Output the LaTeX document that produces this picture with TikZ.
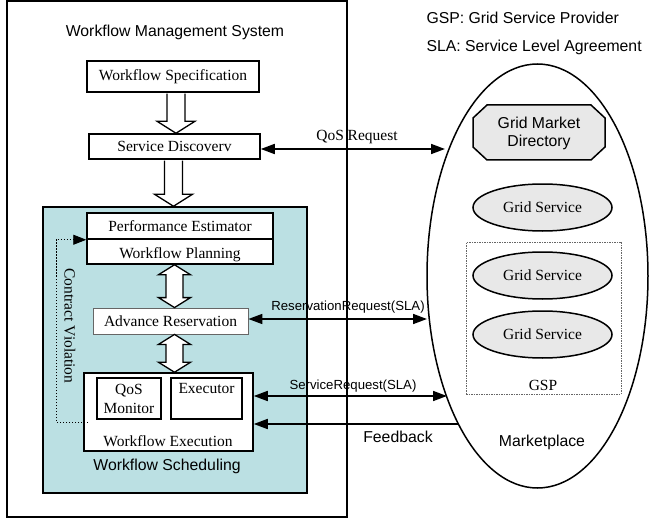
\documentclass[tikz,border=0pt]{standalone}
\usepackage{fontspec}
\setmainfont{Liberation Serif}
\setsansfont{Liberation Sans}
\usetikzlibrary{arrows.meta,calc,shapes.geometric}
\definecolor{teal1}{RGB}{187,224,227}
\definecolor{gsfill}{RGB}{232,232,232}
\newcommand{\SerifBig}{\rmfamily\fontsize{15.5}{18}\selectfont}
\newcommand{\SerifTight}{\rmfamily\fontsize{15.5}{19}\selectfont}
\newcommand{\SansBig}{\sffamily\fontsize{15.8}{18}\selectfont}
\newcommand{\SansSmall}{\sffamily\fontsize{13.2}{15}\selectfont}
\newcommand{\HollowDown}[2]{%
  \draw[hollow] ($(#1)+(-9,0.8)$) -- ($(#2)+(-9,-12)$) -- ($(#2)+(-19,-12)$) -- (#2)
    -- ($(#2)+(19,-12)$) -- ($(#2)+(9,-12)$) -- ($(#1)+(9,0.8)$);}
\newcommand{\HollowDouble}[2]{%
  \draw[hollow] (#1) -- ($(#1)+(16,10)$) -- ($(#1)+(8.5,10)$) -- ($(#2)+(8.5,-10)$)
    -- ($(#2)+(16,-10)$) -- (#2) -- ($(#2)+(-16,-10)$) -- ($(#2)+(-8.5,-10)$)
    -- ($(#1)+(-8.5,10)$) -- ($(#1)+(-16,10)$) -- cycle;}
\begin{document}
\begin{tikzpicture}[x=1pt,y=-1pt,
  box/.style={draw,line width=1.5pt,fill=white,inner sep=0pt,font=\SerifBig},
  hollow/.style={draw,line width=1.3pt,fill=white,line join=miter},
  conn/.style={line width=1.6pt,-{Triangle[length=14pt,width=10pt]}},
  dconn/.style={line width=1.6pt,{Triangle[length=14pt,width=10pt]}-{Triangle[length=14pt,width=10pt]}},
  cv/.style={line width=0.8pt,dash pattern=on 1.5pt off 1.5pt,-{Triangle[length=13pt,width=10pt]}},
  gsell/.style={ellipse,draw,line width=1.5pt,fill=gsfill,minimum width=139pt,minimum height=47pt,inner sep=0pt,font=\SerifBig}]
\useasboundingbox (0,0) rectangle (649,519);

% Workflow management system
\node[draw,line width=1.5pt,minimum width=340pt,minimum height=516pt,inner sep=0pt] (wms) at (177,259) {};
\node[font=\SansBig] (wmst) at (175,32) {Workflow Management System};
\node[box,minimum width=172pt,minimum height=31pt] (spec) at (173,76.5) {Workflow Specification};
\node[box,minimum width=171pt,minimum height=25pt] (sd) at (174.5,146.5) {Service Discoverv};

% Workflow scheduling
\node[draw,line width=1.5pt,fill=teal1,minimum width=264pt,minimum height=286pt,inner sep=0pt] (sched) at (175,350) {};
\node[font=\SansBig] (schedt) at (167,466) {Workflow Scheduling};
\node[box,minimum width=186pt,minimum height=26pt] (pe) at (180,226) {Performance Estimator};
\node[box,minimum width=186pt,minimum height=25pt] (wp) at (180,251.5) {};
\node[font=\SerifBig] (wpt) at (180,255) {Workflow Planning};
\node[draw=black!60,line width=0.8pt,fill=white,minimum width=155pt,minimum height=26pt,inner sep=0pt,font=\SerifBig] (ar) at (170.5,321) {Advance Reservation};
\node[box,minimum width=169pt,minimum height=78pt] (wfe) at (168.5,412) {};
\node[font=\SerifBig] (wfet) at (168,441) {Workflow Execution};
\node[box,line width=1.8pt,minimum width=64pt,minimum height=41pt,align=center,font=\SerifTight] (qos) at (129,398.5) {QoS\\Monitor};
\node[box,line width=1.8pt,minimum width=71pt,minimum height=41pt] (ex) at (206.5,398.5) {};
\node[font=\SerifBig] (ext) at (206.5,388) {Executor};

% hollow arrows
\coordinate (c1x) at (176,0);
\coordinate (c2x) at (173.5,0);
\coordinate (colx) at (174.5,0);
\coordinate (h1a) at (c1x |- spec.south);
\coordinate (h1b) at (c1x |- sd.north);
\coordinate (h2a) at (c2x |- sd.south);
\coordinate (h2b) at (c2x |- sched.north);
\coordinate (d1a) at (colx |- wp.south);
\coordinate (d1b) at (colx |- ar.north);
\coordinate (d2a) at (colx |- ar.south);
\coordinate (d2b) at (colx |- wfe.north);
\HollowDown{h1a}{h1b}
\HollowDown{h2a}{h2b}
\HollowDouble{d1a}{d1b}
\HollowDouble{d2a}{d2b}

% contract violation
\coordinate (cvs) at (88,422);
\draw[cv] (cvs) -- ++(-32,0) |- (pe.south west);
\node[font=\SerifBig,rotate=-90] (cvt) at (70,326) {Contract Violation};

% legend
\node[font=\SansBig,anchor=west] (leg1) at (423,18) {GSP: Grid Service Provider};
\node[font=\SansBig,anchor=west] (leg2) at (423,47) {SLA: Service Level Agreement};

% marketplace
\node[ellipse,draw,line width=1.5pt,minimum width=221pt,minimum height=424pt,inner sep=0pt] (mp) at (537.5,276) {};
\draw[line width=1.5pt,fill=gsfill] (473,118) -- (487,105) -- (591,105) -- (605,118) -- (605,147) -- (591,160) -- (487,160) -- (473,147) -- cycle;
\node[font=\SansBig,align=center] (gmd) at (539,133) {Grid Market\\Directory};
\node[gsell] (gs1) at (542.5,207.5) {Grid Service};
\node[draw=black!60,dash pattern=on 1.5pt off 1pt,line width=0.7pt,minimum width=155pt,minimum height=152pt,inner sep=0pt] (gsp) at (543.5,318) {};
\node[gsell] (gs2) at (542.5,275.5) {Grid Service};
\node[gsell] (gs3) at (542.5,334.5) {Grid Service};
\node[font=\SerifBig] (gspt) at (543,385) {GSP};
\node[font=\SansBig] (mpt) at (542,442) {Marketplace};

% connectors
\coordinate (mq) at (445,149);
\draw[dconn] (mq -| sd.east) -- (mq);
\node[font=\SerifBig] (qlab) at (357,137) {QoS Request};
\coordinate (mr) at (427,319);
\draw[dconn] (mr -| ar.east) -- (mr);
\node[font=\SansSmall] (rlab) at (348,307) {ReservationRequest(SLA)};
\coordinate (ms) at (447,396);
\draw[dconn] (ms -| wfe.east) -- (ms);
\node[font=\SansSmall] (slab) at (353,386) {ServiceRequest(SLA)};
\coordinate (mf) at (458,424);
\draw[conn] (mf) -- (mf -| wfe.east);
\node[font=\SansBig] (flab) at (398,437) {Feedback};
\end{tikzpicture}
\end{document}
